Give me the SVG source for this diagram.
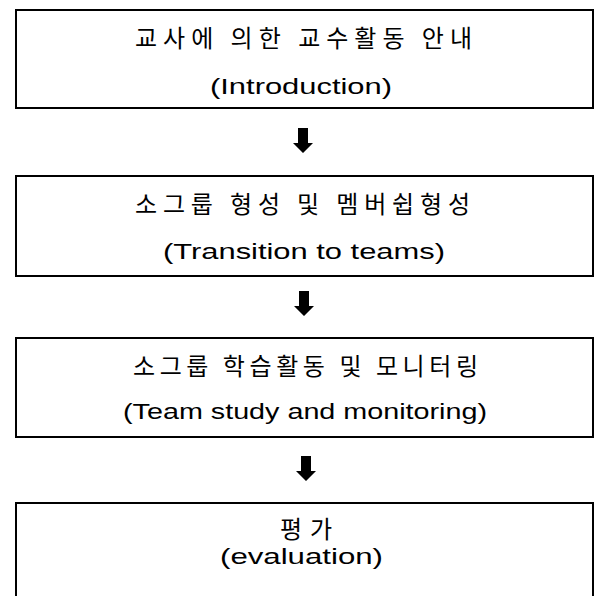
<svg xmlns="http://www.w3.org/2000/svg" width="595" height="596" viewBox="0 0 595 596">
  <style>
    .box { fill: #ffffff; stroke: #000000; stroke-width: 2; }
    .ko { font-family: "Noto Sans CJK KR", "Noto Sans", sans-serif; font-size: 24px; fill: #000000; text-anchor: start; }
    .en { font-family: "Liberation Sans", "DejaVu Sans", sans-serif; font-size: 22px; fill: #000000; text-anchor: start; }
    .arrow { fill: #000000; stroke: none; }
  </style>
  <defs>
    <path id="blockArrow" d="M-5,0 L5,0 L5,15 L10,15 L0,25 L-10,15 L-5,15 Z"/>
  </defs>
  <rect x="0" y="0" width="595" height="596" fill="#ffffff"/>

  <g id="node-introduction">
    <rect class="box" x="16" y="10" width="577" height="98"/>
    <text class="ko" x="135" y="47" textLength="337" lengthAdjust="spacing">교사에 의한 교수활동 안내</text>
    <text class="en" x="210" y="94" textLength="182" lengthAdjust="spacingAndGlyphs">(Introduction)</text>
  </g>

  <g id="node-transition">
    <rect class="box" x="16" y="176" width="577" height="100"/>
    <text class="ko" x="135" y="213" textLength="335" lengthAdjust="spacing">소그룹 형성 및 멤버쉽형성</text>
    <text class="en" x="163" y="259" textLength="282" lengthAdjust="spacingAndGlyphs">(Transition to teams)</text>
  </g>

  <g id="node-teamstudy">
    <rect class="box" x="16" y="338" width="577" height="99"/>
    <text class="ko" x="133" y="375" textLength="345" lengthAdjust="spacing">소그룹 학습활동 및 모니터링</text>
    <text class="en" x="123" y="419" textLength="364" lengthAdjust="spacingAndGlyphs">(Team study and monitoring)</text>
  </g>

  <g id="node-evaluation">
    <rect class="box" x="16" y="503" width="577" height="100"/>
    <text class="ko" x="280" y="538" textLength="52" lengthAdjust="spacing">평가</text>
    <text class="en" x="220" y="564" textLength="163" lengthAdjust="spacingAndGlyphs">(evaluation)</text>
  </g>

  <g id="connectors">
    <use href="#blockArrow" class="arrow" x="303" y="128"/>
    <use href="#blockArrow" class="arrow" x="304" y="291"/>
    <use href="#blockArrow" class="arrow" x="306" y="456"/>
  </g>
</svg>
